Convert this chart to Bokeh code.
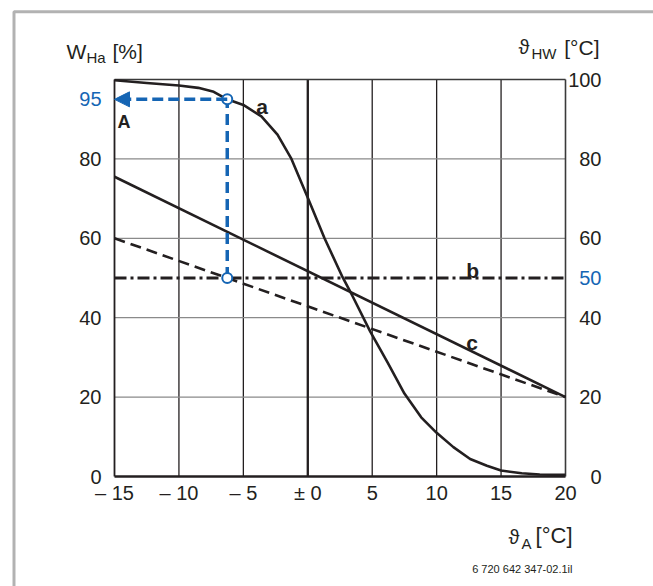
from bokeh.plotting import figure
from bokeh.models import (Range1d, FixedTicker, Label, LabelSet, ColumnDataSource,
                          Arrow, NormalHead, BoxAnnotation)
from bokeh.core.properties import value
from bokeh.embed import file_html
from bokeh.resources import INLINE

# ---------------- data ----------------
x_ticks = [-15, -10, -5, 0, 5, 10, 15, 20]
x_tick_labels = ["– 15", "– 10", "– 5", "± 0", "5", "10", "15", "20"]
left_ticks = [0, 20, 40, 60, 80]
left_tick_labels = ["0", "20", "40", "60", "80"]
right_ticks = [0, 20, 40, 50, 60, 80, 100]
right_tick_labels = ["0", "20", "40", "50", "60", "80", "100"]
right_highlight = [False, False, False, True, False, False, False]
y_min, y_max = 0, 100

# curve a : W_Ha [%] vs outside temperature
a_x = [-15, -12.5, -10, -8.5, -7.3, -6.25, -5, -3.6, -2.35, -1.3, 0, 1.3, 2.7, 3.45, 4.85,
       6.2, 7.5, 8.8, 10, 11.3, 12.6, 13.9, 15, 16.6, 18, 20]
a_y = [99.8, 99.1, 98.5, 97.9, 96.9, 95.0, 93.6, 90.7, 86.1, 80.2, 70.2, 60.0, 50.2, 45.6, 36.5,
       28.7, 20.9, 14.9, 11.0, 7.4, 4.4, 2.7, 1.5, 0.8, 0.5, 0.4]
# solid heating water line (c)
c_solid_x = [-15, 20]
c_solid_y = [75.5, 20]
# dashed line
c_dash_x = [-15, 20]
c_dash_y = [60, 20]
# dash-dot line b
b_x = [-15, 20]
b_y = [50, 50]
# read-off example
mark_x = -6.25
mark_w = 95
mark_t = 50

BLACK = "#231f20"
BLUE = "#1565b4"
FONT = "Liberation Sans"

# ---------------- layout (pixels of the plotting area inside the canvas) ----------------
W, H = 653, 586
FL, FR, FT, FB = 114, 565, 79, 476
x0, x1 = x_ticks[0], x_ticks[-1]
kx = (FR - FL) / (x1 - x0)
ky = (FB - FT) / (y_max - y_min)
xr = Range1d(x0 - FL / kx, x1 + (W - FR) / kx)
yr = Range1d(y_min - (H - FB) / ky, y_max + FT / ky)

p = figure(width=W, height=H, output_backend="svg", toolbar_location=None,
           x_range=xr, y_range=yr, min_border=0,
           background_fill_color="white", border_fill_color="white")
p.outline_line_color = None
p.xgrid.grid_line_color = None
p.ygrid.grid_line_color = None

# grid lines
vx = x_ticks[1:-1]
p.segment(x0=vx, y0=[y_min] * len(vx), x1=vx, y1=[y_max] * len(vx),
          line_color=BLACK, line_width=1.3)
hy = left_ticks[1:]
p.segment(x0=[x0] * len(hy), y0=hy, x1=[x1] * len(hy), y1=hy,
          line_color="#8a8a8a", line_width=1.3)
# zero line thicker
p.segment(x0=[0], y0=[y_min], x1=[0], y1=[y_max], line_color=BLACK, line_width=2.3)
# frame edges
p.segment(x0=[x0, x0], y0=[y_min, y_max], x1=[x1, x1], y1=[y_min, y_max],
          line_color=[BLACK, "#3a3a3a"], line_width=[2.5, 1.4])
p.segment(x0=[x0, x1], y0=[y_min, y_min], x1=[x0, x1], y1=[y_max, y_max],
          line_color=[BLACK, "#3a3a3a"], line_width=[1.8, 1.6])

# axes (real bokeh axes pinned to the chart edges)
for ax in (p.xaxis[0], p.yaxis[0]):
    ax.axis_line_color = None
    ax.major_tick_line_color = None
    ax.minor_tick_line_color = None
    ax.major_tick_out = 0
    ax.major_tick_in = 0
    ax.major_label_text_font = FONT
    ax.major_label_text_font_size = "20px"
    ax.major_label_text_color = BLACK

p.xaxis[0].fixed_location = y_min
p.xaxis[0].ticker = FixedTicker(ticks=x_ticks)
p.xaxis[0].major_label_overrides = {t: l for t, l in zip(x_ticks, x_tick_labels)}
p.xaxis[0].major_label_standoff = 5
p.yaxis[0].fixed_location = x0
p.yaxis[0].ticker = FixedTicker(ticks=left_ticks)
p.yaxis[0].major_label_overrides = {t: l for t, l in zip(left_ticks, left_tick_labels)}
p.yaxis[0].major_label_standoff = 13

# right axis labels
rsrc = ColumnDataSource(dict(
    x=[x1] * len(right_ticks), y=right_ticks, text=right_tick_labels,
    color=[BLUE if h else BLACK for h in right_highlight]))
p.add_layout(LabelSet(x="x", y="y", text="text", source=rsrc, text_color="color",
                      x_offset=36, text_align="right", text_baseline="middle",
                      text_font=value(FONT), text_font_size=value("20px")))

# curves
p.line(a_x, a_y, line_color=BLACK, line_width=2.6, line_join="round")
p.line(c_solid_x, c_solid_y, line_color=BLACK, line_width=2.6)
p.line(c_dash_x, c_dash_y, line_color=BLACK, line_width=2.6, line_dash="11 6")
p.line(b_x, b_y, line_color=BLACK, line_width=3, line_dash="12 4 3 4")

# blue read-off
p.line([mark_x, mark_x], [mark_t, mark_w], line_color=BLUE, line_width=3.5, line_dash="11 6")
p.add_layout(Arrow(end=NormalHead(size=15, fill_color=BLUE, line_color=BLUE, line_width=1),
                   x_start=mark_x, y_start=mark_w, x_end=x0, y_end=mark_w,
                   line_color=BLUE, line_width=3.5, line_dash="11 5"))
p.scatter([mark_x, mark_x], [mark_w, mark_t], size=10, fill_color="white",
          line_color=BLUE, line_width=2)
p.add_layout(Label(x=x0, y=mark_w, text=str(mark_w), x_offset=-13,
                   text_align="right", text_baseline="middle", text_color=BLUE,
                   text_font=FONT, text_font_size="20px"))

# curve letters
def letter(x, y, t, size="20px"):
    p.add_layout(Label(x=x, y=y, text=t, text_font=FONT, text_font_size=size,
                       text_font_style="bold", text_color=BLACK, text_baseline="alphabetic"))

letter(-4.0, 93.1, "a", "21px")
letter(12.3, 51.9, "b", "21px")
letter(12.3, 33.75, "c", "21px")
letter(-14.77, 89.4, "A", "18px")

# axis titles (canvas pixel units)
def ctext(x, y, t, size, align="left"):
    p.add_layout(Label(x=x, y=y, x_units="canvas", y_units="canvas", text=t,
                       text_font=FONT, text_font_size=size, text_color=BLACK,
                       text_align=align, text_baseline="alphabetic"))

ctext(66, 51, "W", "21px")
ctext(86, 56.5, "Ha", "15px")
ctext(112, 51, "[%]", "21px")

ctext(518, 46, "ϑ", "20px")
ctext(531, 52.5, "HW", "15px")
ctext(599, 46.5, "[°C]", "21px", "right")

ctext(508, 536.5, "ϑ", "20px")
ctext(521, 543, "A", "15px")
ctext(572, 535, "[°C]", "22px", "right")

ctext(572, 568, "6 720 642 347-02.1il", "11px", "right")

# outer frame of the figure
p.add_layout(BoxAnnotation(left=13.5, right=W + 20, top=11.3, bottom=H + 20,
                           left_units="canvas", right_units="canvas",
                           top_units="canvas", bottom_units="canvas",
                           fill_alpha=0, line_color="black", line_width=3, level="overlay"))

open("out.html", "w").write(file_html(p, INLINE))
